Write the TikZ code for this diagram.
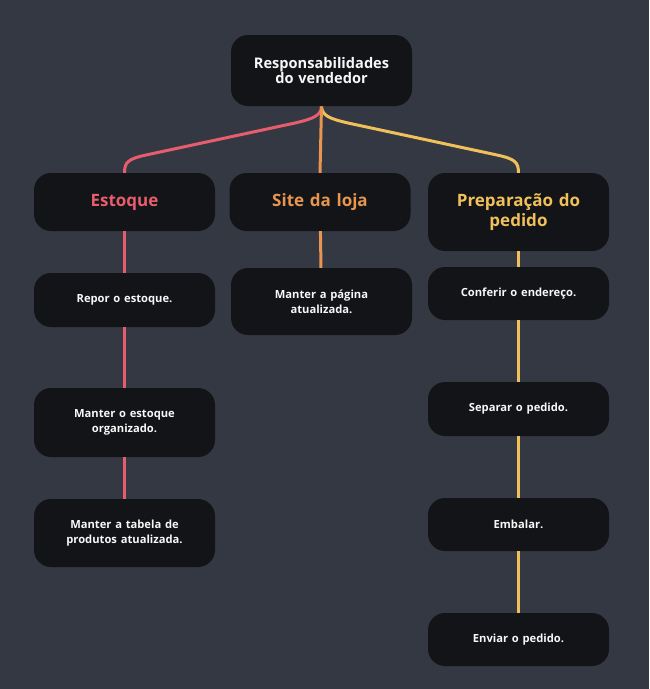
\documentclass[tikz,border=0pt]{standalone}
\usepackage{fontspec}
\setmainfont{Open Sans}
\usepackage{xcolor}
\definecolor{bgcol}{HTML}{343843}
\definecolor{boxcol}{HTML}{131417}
\definecolor{redcol}{HTML}{E85D6E}
\definecolor{orgcol}{HTML}{E8954F}
\definecolor{ylwcol}{HTML}{F0C05A}
\definecolor{txtcol}{HTML}{F7F7F7}
\usetikzlibrary{positioning}

\begin{document}
\begin{tikzpicture}[x=1pt,y=-1pt,
  card/.style={fill=boxcol,rounded corners=17pt,minimum width=181pt,align=center,text width=175pt,inner sep=0pt},
  rootcard/.style={card,minimum height=71pt,font=\bfseries\fontsize{14.6}{15.5}\selectfont,text=txtcol},
  headcard/.style={card,minimum height=58pt,font=\bfseries\fontsize{17}{20.5}\selectfont},
  taskcard/.style={card,font=\bfseries\fontsize{11.2}{15}\selectfont,text=txtcol},
  link/.style={line width=3pt}]
\fill[bgcol] (0,0) rectangle (649,689);
\useasboundingbox (0,0) rectangle (649,689);

% lines go first, cards on top
\path coordinate (rt) at (321.5,106)
      coordinate (lt) at (124.5,173)
      coordinate (mt) at (320,173)
      coordinate (rr) at (518.5,173);
\draw[link,redcol] (rt) .. controls (321.5,116) and (312,119) .. (295,123)
  -- (146,155) .. controls (128,159) and (124.5,162) .. (lt);
\draw[link,ylwcol] (rt) .. controls (321.5,116) and (331,119) .. (348,123)
  -- (497,155) .. controls (515,159) and (518.5,162) .. (rr);
\draw[link,orgcol] (rt) -- (mt);

% top
\node[rootcard] (root) at (321.5,70.5) {Responsabilidades\\do vendedor};

% headers
\node[headcard,text=redcol] (stock) at (124.5,202) {Estoque};
\node[headcard,text=orgcol] (site) at (320,202) {Site da loja};
\node[headcard,text=ylwcol,minimum height=78pt] (prep) at (518.5,212) {Preparação do\\pedido};

% tasks
\node[taskcard,minimum height=54pt] (refill) at (124.5,300) {Repor o estoque.};
\node[taskcard,minimum height=69pt] (keep) at (124.5,422.5) {Manter o estoque\\organizado.};
\node[taskcard,minimum height=68pt] (table) at (124.5,533) {Manter a tabela de\\produtos atualizada.};
\node[taskcard,minimum height=67pt] (page) at (321.5,301.5) {Manter a página\\atualizada.};
\node[taskcard,minimum height=53pt] (check) at (518.5,293.5) {Conferir o endereço.};
\node[taskcard,minimum height=54pt] (pick) at (518.5,409) {Separar o pedido.};
\node[taskcard,minimum height=53pt] (pack) at (518.5,524.5) {Embalar.};
\node[taskcard,minimum height=53pt] (send) at (518.5,639.5) {Enviar o pedido.};

\draw[link,redcol] (stock) -- (refill) (refill) -- (keep) (keep) -- (table);
\draw[link,orgcol] (site) -- (page);
\draw[link,ylwcol] (prep) -- (check) (check) -- (pick) (pick) -- (pack) (pack) -- (send);
\end{tikzpicture}
\end{document}
